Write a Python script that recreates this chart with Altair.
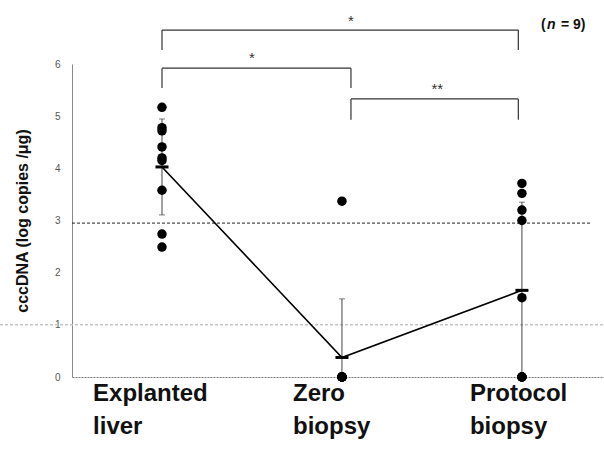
import altair as alt
import pandas as pd

# cccDNA (log copies/ug) per patient, n = 9 in each group
groups = ["Explanted liver", "Zero biopsy", "Protocol biopsy"]
group_pos = [1, 2, 3]
explanted = [5.17, 4.78, 4.72, 4.41, 4.20, 4.15, 3.58, 2.74, 2.49]
zero_biopsy = [3.37, 0, 0, 0, 0, 0, 0, 0, 0]
protocol_biopsy = [3.71, 3.52, 3.20, 3.00, 1.52, 0, 0, 0, 0]

# category labels under the axis (two lines each) and their left edge
label_lines = [["Explanted", "liver"], ["Zero", "biopsy"], ["Protocol", "biopsy"]]
label_left = [0.617, 1.728, 2.711]

# significance brackets: left, right, bar level, leg bottom, mark, mark position
br_left = [1.0, 1.0, 2.05]
br_right = [2.98, 2.05, 2.98]
br_level = [6.65, 5.92, 5.33]
br_leg = [6.27, 5.54, 4.93]
br_mark = ["*", "*", "**"]
br_mark_x = [2.05, 1.50, 2.53]
br_mark_y = [6.83, 6.12, 5.52]

# reference levels
cutoff_level = 2.95
lower_level = 1.0

# sample-size note, drawn in three pieces so that n can be italic
n_parts = ["(", "n", "= 9)"]
n_note_x = 3.106
n_note_y = 6.75

Y_TITLE = "cccDNA (log copies /μg)"

rows = []
for pos, vals in zip(group_pos, [explanted, zero_biopsy, protocol_biopsy]):
    for v in vals:
        rows.append({"pos": pos, "value": v})
df = pd.DataFrame(rows)

segs = []
for l, r, lev, leg in zip(br_left, br_right, br_level, br_leg):
    segs.append({"x1": l, "x2": r, "y1": lev, "y2": lev})
    segs.append({"x1": l, "x2": l, "y1": lev, "y2": leg})
    segs.append({"x1": r, "x2": r, "y1": lev, "y2": leg})
seg_df = pd.DataFrame(segs)
mark_df = pd.DataFrame({"x": br_mark_x, "y": br_mark_y, "t": br_mark})
lab_df = pd.DataFrame({"x": label_left, "y": [-0.1] * 3, "t": label_lines})

xs = alt.Scale(domain=[0.5, 3.456], nice=False, zero=False)
ys = alt.Scale(domain=[0, 6], nice=False, zero=False)


def X(f):
    return alt.X(f, type="quantitative", scale=xs, title=None)


def Y(f):
    return alt.Y(f, type="quantitative", scale=ys, title=Y_TITLE)


base = alt.Chart(df)

points = base.mark_circle(size=90, color="black", opacity=1).encode(
    x=alt.X("pos:Q", scale=xs, title=None,
            axis=alt.Axis(labels=False, ticks=False, grid=False,
                          domainColor="#777", domainDash=[2, 1], domainWidth=1)),
    y=alt.Y("value:Q", scale=ys, title=Y_TITLE,
            axis=alt.Axis(values=[0, 1, 2, 3, 4, 5, 6],
                          ticks=False, grid=False, domainColor="#888", domainWidth=1,
                          labelColor="#555", labelFontSize=10, labelPadding=12,
                          labelFont="Liberation Sans", titleFont="Liberation Sans",
                          titleFontSize=16, titleFontWeight="bold", titleColor="#111",
                          titlePadding=24)),
)

errbars = base.mark_errorbar(extent="stdev", ticks=alt.MarkConfig(size=6), clip=True,
                             color="#444", thickness=1).encode(
    x=X("pos:Q"), y=Y("value:Q"),
)

means = base.mark_line(color="black", strokeWidth=1.6).encode(
    x=X("pos:Q"), y=Y("mean(value):Q")
)

mean_ticks = base.mark_tick(orient="horizontal", color="black", size=13, thickness=3).encode(
    x=X("pos:Q"), y=Y("mean(value):Q")
)

ref_df = pd.DataFrame({"y": [cutoff_level], "x": [0.5], "x2": [3.38]})
cutoff = alt.Chart(ref_df).mark_rule(color="#222", strokeDash=[3, 2], strokeWidth=1).encode(
    x=X("x:Q"), x2="x2", y=Y("y:Q")
)
lower = alt.Chart(pd.DataFrame({"y": [lower_level]})).mark_rule(
    color="#c4c4c4", strokeDash=[3, 2], strokeWidth=1.5
).encode(y=Y("y:Q"), x=alt.value(-72), x2=alt.value(532))

brackets = alt.Chart(seg_df).mark_rule(color="#333", strokeWidth=1.2).encode(
    x=X("x1:Q"), x2="x2", y=Y("y1:Q"), y2="y2"
)
stars = alt.Chart(mark_df).mark_text(
    fontSize=15, color="#333", font="Liberation Sans", baseline="middle"
).encode(x=X("x:Q"), y=Y("y:Q"), text="t:N")

labels = alt.Chart(lab_df).mark_text(
    align="left", baseline="top", fontSize=24, fontWeight="bold", lineHeight=33,
    color="#111", font="Liberation Sans"
).encode(x=X("x:Q"), y=Y("y:Q"), text="t")

n_df = pd.DataFrame({"x": [n_note_x], "y": [n_note_y]})
n_layers = []
for part, dx, style in zip(n_parts, [0, 6, 20], ["normal", "italic", "normal"]):
    n_layers.append(
        alt.Chart(n_df).mark_text(
            align="left", baseline="middle", fontSize=14, fontWeight="bold",
            fontStyle=style, color="#111", font="Liberation Sans", dx=dx
        ).encode(x=X("x:Q"), y=Y("y:Q"), text=alt.value(part))
    )

chart = alt.layer(
    lower, cutoff, errbars, means, points, mean_ticks, brackets, stars, labels, *n_layers
).properties(
    width=532, height=313,
    padding={"left": 72, "top": 64, "right": 0, "bottom": 87},
    autosize=alt.AutoSizeParams(type="none"),
    background="white",
).configure_view(stroke=None)

chart.save("out.html", embed_options={"renderer": "svg", "actions": False})
